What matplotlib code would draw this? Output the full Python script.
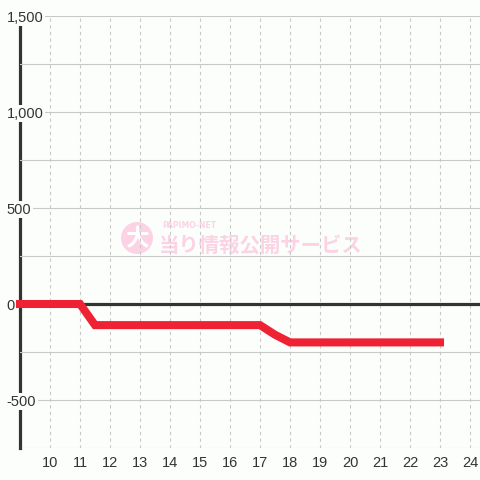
import matplotlib
matplotlib.use("Agg")
import matplotlib.pyplot as plt
from matplotlib.patches import Circle

# data
hours = [9, 10, 11, 11.5, 12, 13, 14, 15, 16, 17, 17.5, 18, 19, 20, 21, 22, 23]
values = [0, 0, 0, -110, -110, -110, -110, -110, -110, -110, -160, -200, -200, -200, -200, -200, -200]
x_ticks = list(range(10, 25))
y_major = [-500, 0, 500, 1000, 1500]
y_labels = ["-500", "0", "500", "1,000", "1,500"]
y_grid = [-750, -500, -250, 0, 250, 500, 750, 1000, 1250, 1500]

BG = "#fcfefc"
W = H = 480.0

fig = plt.figure(figsize=(4.8, 4.8), dpi=100, facecolor=BG)
ax = fig.add_axes([20 / W, 32 / H, 460 / W, 432 / H], facecolor=BG)
ax.set_xlim(9, 24.333)
ax.set_ylim(-750, 1500)

for s in ["top", "right", "bottom"]:
    ax.spines[s].set_visible(False)
ax.spines["left"].set_color("#333333")
ax.spines["left"].set_linewidth(2.3)
ax.spines["left"].set_zorder(1)

# grids
ax.set_yticks(y_grid, minor=True)
ax.set_yticks(y_major)
ax.set_yticklabels(y_labels)
ax.set_xticks(x_ticks)
ax.set_xticklabels([str(v) for v in x_ticks])
ax.grid(axis="y", which="both", color="#c8c8c8", linewidth=0.8, linestyle="-")
ax.grid(axis="x", which="major", color="#c8c8c8", linewidth=0.8, linestyle=(0, (3, 3)))
ax.tick_params(axis="both", which="both", length=0)
ax.tick_params(axis="y", pad=9.6, labelsize=10.5, labelcolor="#333333")
ax.tick_params(axis="x", pad=5.5, labelsize=10.5, labelcolor="#333333")
for lab in ax.get_yticklabels():
    lab.set_horizontalalignment("left")
    lab.set_bbox(dict(facecolor=BG, edgecolor="none", pad=1.0))
for lab in ax.get_xticklabels() + ax.get_yticklabels():
    lab.set_fontfamily(["Liberation Sans", "DejaVu Sans"])

ax.axhline(0, color="#333333", linewidth=2.3, zorder=2)

# watermark
fig.patches.append(Circle((137 / W, 1 - 238 / H), 16 / W, transform=fig.transFigure,
                          facecolor="#fbd3e4", edgecolor="none", zorder=0.5))
fig.text(137 / W, 1 - 239 / H, "大", ha="center", va="center", fontsize=17,
         fontweight="bold", color="white", family=["Noto Sans CJK JP"], zorder=0.6)
fig.text(162 / W, 1 - 226 / H, "PAPIMO-NET", ha="left", va="center", fontsize=5.5,
         fontweight="bold", color="#fbd3e4", family=["DejaVu Sans"], zorder=0.6)
fig.text(159 / W, 1 - 245 / H, "当り情報公開サービス", ha="left", va="center", fontsize=14.7,
         fontweight="bold", color="#fbd3e4", family=["Noto Sans CJK JP"], zorder=0.6)
ax.set_zorder(1)
ax.patch.set_alpha(0)
fig.patch.set_facecolor(BG)

ax.plot(hours, values, color="#ee2233", linewidth=5.8, solid_capstyle="projecting",
        solid_joinstyle="miter", zorder=3, clip_on=False)

fig.savefig("out.png", dpi=100, facecolor=BG)
